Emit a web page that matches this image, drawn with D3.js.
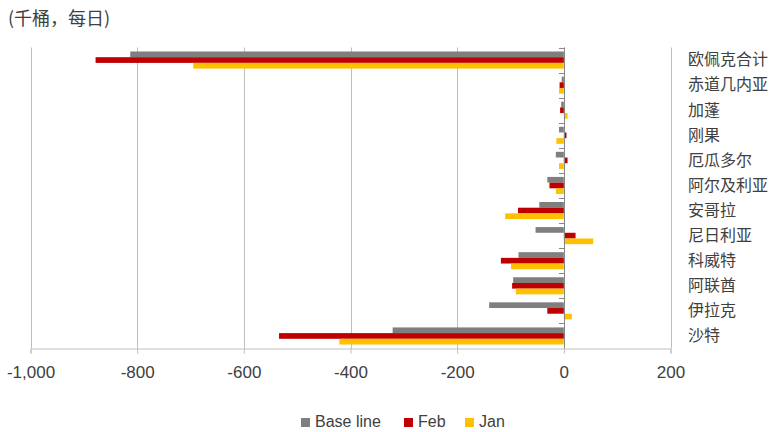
<!DOCTYPE html>
<html><head><meta charset="utf-8">
<script src="https://cdn.jsdelivr.net/npm/d3@7"></script>
<style>
body{margin:0;background:#fff;}
svg{display:block;}
</style></head>
<body>
<svg id="c" width="777" height="432"></svg>
<script>
const categories = ['欧佩克合计','赤道几内亚','加蓬','刚果','厄瓜多尔','阿尔及利亚','安哥拉','尼日利亚','科威特','阿联酋','伊拉克','沙特'];
const baseline = [-813,-4,-5,-9,-15,-31,-46,-53,-85,-95,-140,-321];
const feb = [-878,-8,-7,5,7,-27,-86,22,-118,-97,-31,-534];
const jan = [-695,-9,7,-14,-9,-15,-110,55,-99,-90,15,-421];
const seriesNames = ['Base line','Feb','Jan'];
const seriesColors = ['#7f7f7f','#c00000','#ffc000'];
const tickValues = [-1000,-800,-600,-400,-200,0,200];
const unitLabel = '(千桶，每日)';

const seriesData = [baseline, feb, jan];
const svg = d3.select('#c');
const cjk = '"Noto Sans CJK SC","Noto Sans",sans-serif';
const latin = '"Liberation Sans Narrow","Liberation Sans","DejaVu Sans",sans-serif';

const x = d3.scaleLinear().domain([-1000,200]).range([30.5,670.5]);
const y = d3.scaleBand().domain(categories).range([47.5,348.5]).paddingInner(0).paddingOuter(0);
const inner = d3.scaleBand().domain(seriesNames).range([4, y.bandwidth()-4]).padding(0);

// gridlines
svg.append('g').selectAll('line').data(tickValues).join('line')
  .attr('x1', d=>Math.round(x(d))+0.5).attr('x2', d=>Math.round(x(d))+0.5)
  .attr('y1', 47.5).attr('y2', 348.5)
  .attr('stroke', '#bfbfbf').attr('stroke-width', 1);

// bottom axis
const fmt = d3.formatLocale({decimal:'.',thousands:',',grouping:[3],currency:['',''],minus:'-'}).format(',');
const xAxis = svg.append('g').attr('transform','translate(0,348.5)')
  .call(d3.axisBottom(x).tickValues(tickValues).tickSize(5).tickPadding(12).tickFormat(fmt));
xAxis.select('.domain').attr('stroke','#bfbfbf');
xAxis.selectAll('.tick line').attr('stroke','#bfbfbf');
xAxis.selectAll('.tick text').attr('fill','#404040').style('font-family',latin).style('font-size','17px');

// bars
categories.forEach((c,i)=>{
  seriesData.forEach((arr,s)=>{
    const v = arr[i];
    svg.append('rect')
      .attr('x', x(Math.min(0,v)))
      .attr('width', Math.abs(x(v)-x(0)))
      .attr('y', y(c)+inner(seriesNames[s]))
      .attr('height', inner.bandwidth())
      .attr('fill', seriesColors[s]);
  });
});

// zero axis
svg.append('line').attr('x1',Math.round(x(0))+0.5).attr('x2',Math.round(x(0))+0.5)
  .attr('y1',47.5).attr('y2',348.5).attr('stroke','#868686');
const boundaries = categories.map(c=>y(c));
svg.append('g').selectAll('line').data(boundaries).join('line')
  .attr('x1',Math.round(x(0))-5).attr('x2',Math.round(x(0))+0.5)
  .attr('y1',d=>Math.round(d)+0.5).attr('y2',d=>Math.round(d)+0.5)
  .attr('stroke','#868686');

// category labels
svg.append('g').selectAll('text').data(categories).join('text')
  .attr('x', 688).attr('y', d=>y(d)+y.bandwidth()/2+1)
  .attr('dominant-baseline','middle')
  .attr('fill','#404040').style('font-family',cjk).style('font-size','16px')
  .text(d=>d);

// unit label
svg.append('text').attr('x',8).attr('y',25).attr('fill','#404040')
  .style('font-family',cjk).style('font-size','18px').text(unitLabel);

// legend
const legendX = [301, 404, 465];
const lg = svg.append('g');
seriesNames.forEach((n,i)=>{
  lg.append('rect').attr('x',legendX[i]).attr('y',418).attr('width',9).attr('height',9).attr('fill',seriesColors[i]);
  lg.append('text').attr('x',legendX[i]+14).attr('y',423).attr('dominant-baseline','middle')
    .attr('fill','#404040').style('font-family',latin).style('font-size','16px').text(n);
});
</script>
</body></html>
